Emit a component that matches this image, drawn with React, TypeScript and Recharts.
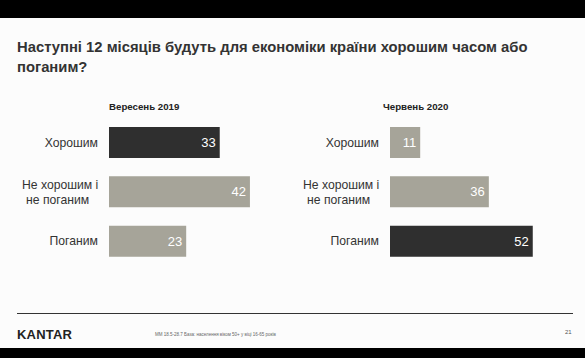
import React from "react"
import { BarChart, Bar, XAxis, YAxis, Cell, LabelList } from "recharts"

const categories = ["Хорошим", "Не хорошим і\nне поганим", "Поганим"]
const sep2019 = [33, 42, 23]
const jun2020 = [11, 36, 52]
const panelTitles = ["Вересень 2019", "Червень 2020"]
// which bar is highlighted (dark) in each panel
const highlight2019 = [true, false, false]
const highlight2020 = [false, false, true]

const DARK = "#2f2f2f"
const GREY = "#a6a499"
const FONT = "'Liberation Sans', Arial, sans-serif"

function CategoryTick(props: any) {
  const { x, y, payload } = props
  const lines = String(payload.value).split("\n")
  if (lines.length === 1) {
    return (
      <text x={x} y={y} dy={4} textAnchor="end" fontSize={12.2} fill="#333" fontFamily={FONT}>
        {lines[0]}
      </text>
    )
  }
  return (
    <text x={x - 76} y={y} textAnchor="start" fontSize={12.2} fill="#333" fontFamily={FONT}>
      <tspan x={x - 76} dy={-3}>{lines[0]}</tspan>
      <tspan x={x - 72} dy={14.5}>{lines[1]}</tspan>
    </text>
  )
}

function Panel({ values, marks, max, left }: { values: number[]; marks: boolean[]; max: number; left: number }) {
  const data = categories.map((c, i) => ({ name: c, value: values[i] }))
  return (
    <div style={{ position: "absolute", left: left, top: 118 }}>
      <BarChart
        width={260}
        height={148}
        data={data}
        layout="vertical"
        margin={{ top: 0, right: 0, bottom: 0, left: 0 }}
        barCategoryGap={18}
      >
        <XAxis type="number" domain={[0, max]} hide />
        <YAxis
          type="category"
          dataKey="name"
          width={109}
          axisLine={false}
          tickLine={false}
          tick={<CategoryTick />}
          tickMargin={5}
        />
        <Bar dataKey="value" barSize={31} isAnimationActive={false}>
          {data.map((d, i) => (
            <Cell key={d.name} fill={marks[i] ? DARK : GREY} />
          ))}
          <LabelList
            dataKey="value"
            position="insideRight"
            offset={4}
            fill="#ffffff"
            fontSize={13}
            fontFamily={FONT}
          />
        </Bar>
      </BarChart>
    </div>
  )
}

export default function App() {
  return (
    <div style={{ position: "absolute", left: 0, top: 0, width: 585, height: 358, background: "#000", overflow: "hidden", fontFamily: FONT }}>
      <div style={{ position: "absolute", left: 0, top: 18, width: 585, height: 330, background: "#fcfcfc" }} />

      <div style={{ position: "absolute", left: 17, top: 37, width: 540, fontSize: 14.8, lineHeight: "20px", fontWeight: 700, color: "#333" }}>
        Наступні 12 місяців будуть для економіки країни хорошим часом або поганим?
      </div>

      <div style={{ position: "absolute", left: 109, top: 101, fontSize: 9.7, fontWeight: 700, color: "#222" }}>
        {panelTitles[0]}
      </div>
      <div style={{ position: "absolute", left: 383, top: 101, fontSize: 9.7, fontWeight: 700, color: "#222" }}>
        {panelTitles[1]}
      </div>

      <Panel values={sep2019} marks={highlight2019} max={45} left={0} />
      <Panel values={jun2020} marks={highlight2020} max={55} left={281} />

      <div style={{ position: "absolute", left: 17, top: 313, width: 556, height: 1, background: "#333" }} />
      <div style={{ position: "absolute", left: 17, top: 327, fontSize: 13, fontWeight: 700, color: "#222", letterSpacing: 0.2 }}>
        KANTAR
      </div>
      <div style={{ position: "absolute", left: 155, top: 332, fontSize: 4.5, color: "#666", whiteSpace: "nowrap" }}>
        MM 18.5-28.7 База: населення віком 50+ у віці 16-65 років
      </div>
      <div style={{ position: "absolute", left: 565, top: 329, fontSize: 6, color: "#555" }}>21</div>
    </div>
  )
}
